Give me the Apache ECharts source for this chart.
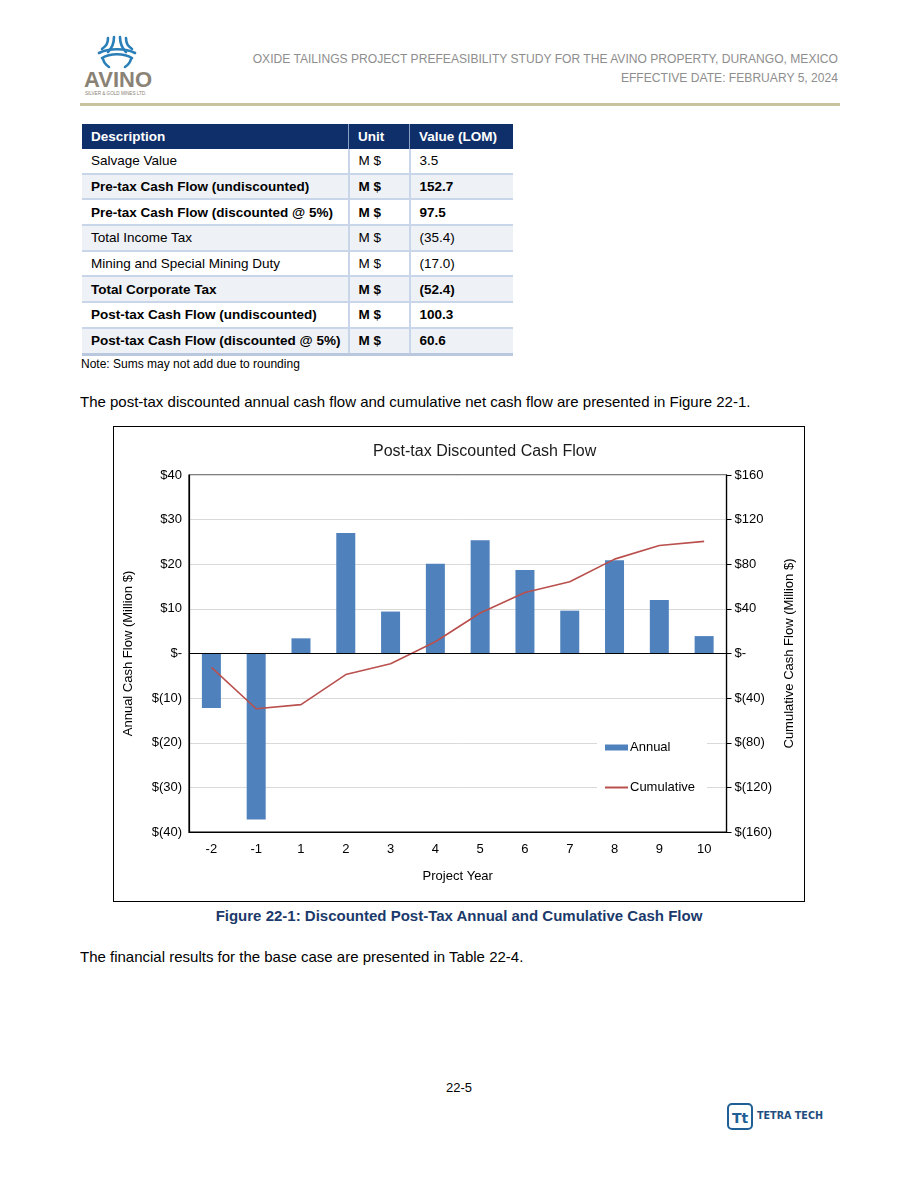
<!DOCTYPE html>
<html>
<head>
<meta charset="utf-8">
<script src="https://cdn.jsdelivr.net/npm/echarts@6/dist/echarts.min.js"></script>
<style>
  html, body { margin: 0; padding: 0; background: #fff; }
  body { width: 918px; height: 1188px; position: relative; font-family: "Liberation Sans", Arial, sans-serif; color: #000; overflow: hidden; }
  .abs { position: absolute; }
  .hdr { right: 80px; text-align: right; font-size: 12.1px; color: #8e8e8e; white-space: nowrap; }
  .rule { left: 80px; top: 103px; width: 760px; height: 3px; background: #c8c29e; }
  table { position: absolute; left: 82px; top: 124px; border-collapse: collapse; font-size: 13.5px; }
  th { background: #0f2f6b; color: #fff; text-align: left; font-weight: bold; height: 25px; padding: 0 0 0 9px; border-left: 1px solid #8aa0c4; }
  th:first-child { border-left: none; }
  td { height: 23.7px; padding: 0 0 0 9px; border-bottom: 2px solid #c9d5e8; border-left: 2px solid #c9d5e8; }
  td:first-child { border-left: none; }
  tr.b td { font-weight: bold; }
  tr.s td { background: #eef1f6; }
  tr:last-child td { border-bottom: 3px solid #b9c8df; }
  .note { left: 81px; top: 357px; font-size: 12px; }
  .para { left: 80px; font-size: 15px; white-space: nowrap; }
  #chart { position: absolute; left: 113px; top: 426px; width: 692px; height: 476px; border: 1px solid #000; box-sizing: border-box; }
  .cap { left: 0; width: 918px; text-align: center; top: 907px; font-size: 15px; font-weight: bold; color: #1b3a6b; }
  .pg { left: 0; width: 918px; text-align: center; top: 1080px; font-size: 13px; }
</style>
</head>
<body>
<!-- AVINO logo -->
<svg class="abs" style="left:80px;top:34px" width="80" height="64" viewBox="0 0 80 64">
  <g fill="none" stroke="#2a7fb8" stroke-width="2.6" stroke-linecap="round">
    <path d="M28 4 C28 10 26 12 22 15"/>
    <path d="M34 3 C34 10 32 14 28 18"/>
    <path d="M40 3 C40 10 42 14 46 18"/>
    <path d="M46 4 C46 10 48 12 52 15"/>
    <path d="M19 19 C28 14 46 14 55 19"/>
    <path d="M22 24 C30 19 44 19 52 24"/>
    <path d="M23 25 C24 29 26 31 29 33"/>
    <path d="M51 25 C50 29 48 31 45 33"/>
  </g>
  <text x="4" y="53" font-family="Liberation Sans, Arial" font-weight="bold" font-size="22" fill="#8a8275">AVINO</text>
  <text x="5" y="61" font-family="Liberation Sans, Arial" font-size="4.6" fill="#8a8275">SILVER &amp; GOLD MINES LTD.</text>
</svg>
<div class="abs hdr" style="top:52px">OXIDE TAILINGS PROJECT PREFEASIBILITY STUDY FOR THE AVINO PROPERTY, DURANGO, MEXICO</div>
<div class="abs hdr" style="top:71px">EFFECTIVE DATE: FEBRUARY 5, 2024</div>
<div class="abs rule"></div>

<table id="tbl"></table>
<div class="abs note">Note: Sums may not add due to rounding</div>
<div class="abs para" style="top:393px">The post-tax discounted annual cash flow and cumulative net cash flow are presented in Figure 22-1.</div>

<div id="chart"></div>
<div class="abs cap">Figure 22-1: Discounted Post-Tax Annual and Cumulative Cash Flow</div>
<div class="abs para" style="top:948px">The financial results for the base case are presented in Table 22-4.</div>
<div class="abs pg">22-5</div>

<!-- Tetra Tech logo -->
<svg class="abs" style="left:726px;top:1102px" width="108" height="30" viewBox="0 0 108 30">
  <rect x="2" y="2" width="24" height="25" rx="4" ry="4" fill="none" stroke="#1f5f95" stroke-width="2"/>
  <text x="14" y="21" text-anchor="middle" font-family="DejaVu Sans, Arial" font-weight="bold" font-size="14" fill="#1f5f95">Tt</text>
  <text x="31" y="17" font-family="DejaVu Sans, Arial" font-weight="bold" font-size="9.6" fill="#1f4f80">TETRA TECH</text>
</svg>

<script>
// ---- table data ----
var tableHeader = ['Description', 'Unit', 'Value (LOM)'];
var tableDesc = ['Salvage Value', 'Pre-tax Cash Flow (undiscounted)', 'Pre-tax Cash Flow (discounted @ 5%)', 'Total Income Tax', 'Mining and Special Mining Duty', 'Total Corporate Tax', 'Post-tax Cash Flow (undiscounted)', 'Post-tax Cash Flow (discounted @ 5%)'];
var tableUnit = ['M $', 'M $', 'M $', 'M $', 'M $', 'M $', 'M $', 'M $'];
var tableValue = ['3.5', '152.7', '97.5', '(35.4)', '(17.0)', '(52.4)', '100.3', '60.6'];
var tableBold = [false, true, true, false, false, true, true, true];

// ---- chart data ----
var years = ['-2', '-1', '1', '2', '3', '4', '5', '6', '7', '8', '9', '10'];
var annual = [-12.2, -37.2, 3.4, 27.0, 9.4, 20.1, 25.4, 18.7, 9.6, 20.9, 12.0, 3.9];
var cumulative = [-12.5, -49.5, -45.8, -18.9, -9.2, 10.5, 36.3, 54.6, 64.3, 84.6, 96.8, 100.5];

(function buildTable() {
  var t = document.getElementById('tbl');
  var html = '<tr><th style="width:257px">' + tableHeader[0] + '</th><th style="width:51px">' + tableHeader[1] + '</th><th style="width:94px">' + tableHeader[2] + '</th></tr>';
  for (var i = 0; i < tableDesc.length; i++) {
    var cls = (tableBold[i] ? 'b' : '') + (i % 2 === 1 ? ' s' : '');
    html += '<tr class="' + cls + '"><td>' + tableDesc[i] + '</td><td>' + tableUnit[i] + '</td><td>' + tableValue[i] + '</td></tr>';
  }
  t.innerHTML = html;
})();

function money(v) {
  if (v === 0) return '$-';
  if (v < 0) return '$(' + (-v) + ')';
  return '$' + v;
}

var narrow = "'Liberation Sans Narrow', 'Arial Narrow', 'Liberation Sans', Arial, sans-serif";
var chart = echarts.init(document.getElementById('chart'), null, { renderer: 'canvas' });
chart.setOption({
  animation: false,
  backgroundColor: '#fff',
  textStyle: { fontFamily: narrow },
  title: {
    text: 'Post-tax Discounted Cash Flow',
    left: 254, top: 12,
    textStyle: { fontFamily: narrow, fontSize: 16, fontWeight: 'normal', color: '#1a1a1a' }
  },
  legend: {
    orient: 'vertical',
    left: 483, top: 300,
    backgroundColor: '#fff',
    padding: [14, 12, 14, 7],
    itemWidth: 23, itemHeight: 6, itemGap: 27,
    textStyle: { fontFamily: narrow, fontSize: 13, color: '#000', padding: [0, 0, 0, -3] },
    data: [
      { name: 'Annual', icon: 'rect' },
      { name: 'Cumulative', itemStyle: { color: 'rgba(0,0,0,0)', borderColor: 'rgba(0,0,0,0)', borderWidth: 0, opacity: 0 } }
    ]
  },
  grid: { left: 75, right: 76, top: 48, bottom: 69, show: true, borderColor: '#000', borderWidth: 1.2, containLabel: false },
  xAxis: {
    type: 'category',
    data: years,
    name: 'Project Year',
    nameLocation: 'middle',
    nameGap: 38,
    nameTextStyle: { fontFamily: narrow, fontSize: 13, color: '#000' },
    axisLine: { onZero: false, lineStyle: { color: '#000', width: 1.2 } },
    axisTick: { show: false },
    axisLabel: { fontFamily: narrow, fontSize: 13, color: '#000', margin: 11 }
  },
  yAxis: [
    {
      type: 'value', min: -40, max: 40, interval: 10,
      name: 'Annual Cash Flow (Million $)',
      nameLocation: 'middle', nameGap: 54,
      nameTextStyle: { fontFamily: "'Liberation Sans', Arial, sans-serif", fontSize: 13, color: '#000' },
      axisLine: { show: true, lineStyle: { color: '#000', width: 1.2 } },
      axisTick: { show: false },
      axisLabel: { formatter: money, fontFamily: narrow, fontSize: 13, color: '#000', margin: 7 },
      splitLine: { show: true, lineStyle: { color: '#d9d9d9', width: 1 } }
    },
    {
      type: 'value', min: -160, max: 160, interval: 40,
      name: 'Cumulative Cash Flow (Million $)',
      nameLocation: 'middle', nameGap: 53,
      nameTextStyle: { fontFamily: "'Liberation Sans', Arial, sans-serif", fontSize: 13, color: '#000' },
      axisLine: { show: true, lineStyle: { color: '#000', width: 1.2 } },
      axisTick: { show: true, inside: false, length: 5, lineStyle: { color: '#000' } },
      axisLabel: { formatter: money, fontFamily: narrow, fontSize: 13, color: '#000', margin: 8 },
      splitLine: { show: false }
    }
  ],
  series: [
    {
      name: 'Annual',
      type: 'bar',
      data: annual,
      yAxisIndex: 0,
      barWidth: 19,
      itemStyle: { color: '#4f81bd' },
      markLine: {
        silent: true, symbol: 'none', label: { show: false },
        lineStyle: { color: '#000', width: 1.2, type: 'solid' },
        data: [{ yAxis: 0 }]
      },
      z: 2
    },
    {
      name: 'Cumulative',
      type: 'line',
      data: cumulative,
      yAxisIndex: 1,
      symbol: 'none',
      showSymbol: false,
      lineStyle: { color: '#b9504d', width: 1.6 },
      itemStyle: { color: '#b9504d' },
      z: 3
    }
  ]
});
</script>
</body>
</html>
